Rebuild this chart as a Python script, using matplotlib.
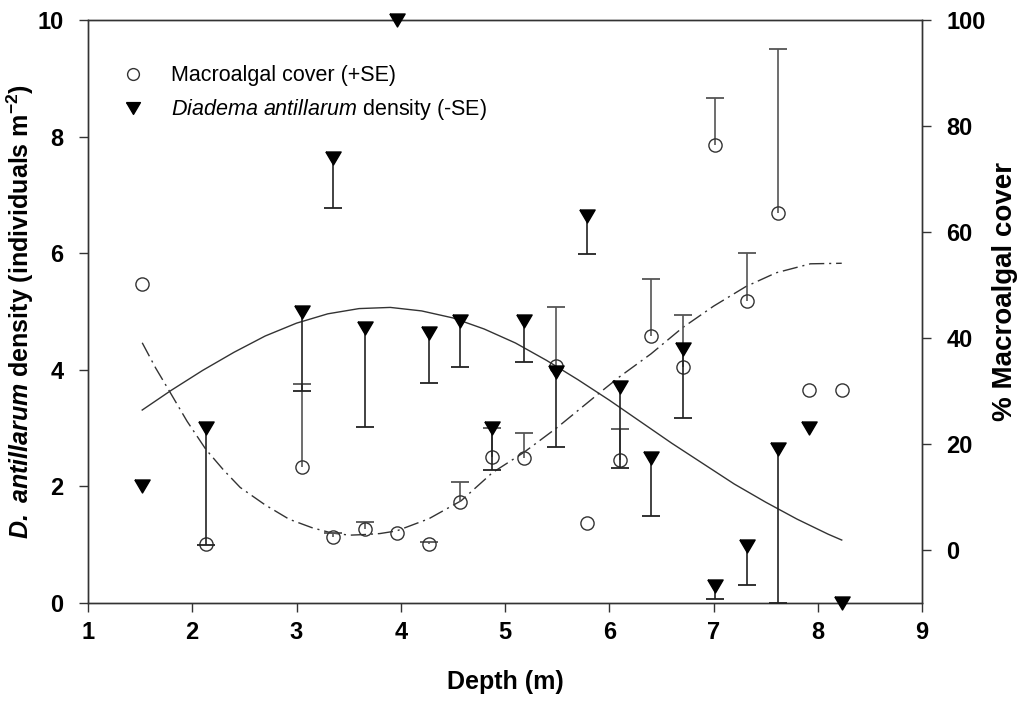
import matplotlib
matplotlib.use("Agg")
import matplotlib.pyplot as plt
import numpy as np
from matplotlib.lines import Line2D

plt.rcParams['font.family'] = ['Liberation Sans', 'DejaVu Sans']
plt.rcParams['mathtext.fontset'] = 'custom'
plt.rcParams['mathtext.rm'] = 'Liberation Sans'
plt.rcParams['mathtext.it'] = 'Liberation Sans:italic'
plt.rcParams['mathtext.bf'] = 'Liberation Sans:bold:italic'
plt.rcParams['mathtext.sf'] = 'Liberation Sans:bold'

# ---- data ----
depth = [1.52, 2.13, 3.05, 3.35, 3.66, 3.96, 4.27, 4.57, 4.88, 5.18,
         5.49, 5.79, 6.10, 6.40, 6.71, 7.01, 7.32, 7.62, 7.92, 8.23]

# Diadema antillarum density (individuals m-2), left axis, with -SE
diadema = [2.0, 3.0, 5.0, 7.63, 4.72, 10.0, 4.63, 4.84, 3.0, 4.84,
           3.97, 6.63, 3.71, 2.49, 4.36, 0.29, 0.97, 2.65, 3.0, 0.0]
diadema_se = [0, 2.0, 1.36, 0.85, 1.70, 0, 0.86, 0.80, 0.72, 0.70,
              1.30, 0.64, 1.40, 1.00, 1.18, 0.22, 0.66, 2.65, 0, 0]

# Macroalgal cover (%), right axis, with +SE
macro = [50.1, 1.1, 15.6, 2.4, 4.0, 3.2, 1.1, 9.0, 17.5, 17.3,
         34.7, 5.1, 17.0, 40.4, 34.5, 76.4, 46.9, 63.5, 30.1, 30.1]
macro_se = [0, 0, 15.8, 0.8, 1.2, 0, 0.4, 3.75, 5.5, 4.7,
            11.2, 0, 5.8, 10.7, 9.9, 8.9, 9.2, 31.0, 0, 0]

# fitted curves
fit_d_x = [1.52, 1.8, 2.1, 2.4, 2.7, 3.0, 3.3, 3.6, 3.9, 4.2, 4.5, 4.8,
           5.1, 5.4, 5.7, 6.0, 6.3, 6.6, 6.9, 7.2, 7.5, 7.8, 8.1, 8.23]
fit_d_y = [3.31, 3.65, 3.99, 4.30, 4.58, 4.80, 4.96, 5.05, 5.07, 5.01, 4.89, 4.70,
           4.46, 4.16, 3.83, 3.48, 3.11, 2.74, 2.39, 2.04, 1.73, 1.44, 1.18, 1.08]

fit_m_x = [1.52, 1.65, 1.78, 1.95, 2.13, 2.3, 2.46, 2.7, 2.93, 3.15, 3.34, 3.51,
           3.64, 3.8, 3.96, 4.27, 4.58, 4.88, 5.18, 5.5, 5.91, 6.1, 6.4, 6.7,
           7.0, 7.31, 7.6, 7.93, 8.23]
fit_m_y = [39.1, 34.3, 30.0, 24.3, 19.0, 15.1, 11.8, 8.5, 5.8, 4.2, 3.2, 2.8,
           2.9, 3.1, 3.6, 5.9, 9.3, 14.6, 18.4, 23.1, 29.7, 32.7, 37.0, 41.9,
           46.0, 49.7, 52.3, 54.0, 54.1]

x_ticks = [1, 2, 3, 4, 5, 6, 7, 8, 9]
left_ticks = [0, 2, 4, 6, 8, 10]
right_ticks = [0, 20, 40, 60, 80, 100]

# ---- figure ----
W, H = 1024, 706
fig = plt.figure(figsize=(W / 100, H / 100), dpi=100)
L, R, T, B = 88, 922, 20, 603
ax = fig.add_axes([L / W, 1 - B / H, (R - L) / W, (B - T) / H])
ax2 = ax.twinx()
ax.set_zorder(ax2.get_zorder() + 1)
ax.patch.set_visible(False)

ax.set_xlim(1, 9)
ax.set_ylim(0, 10)
ax2.set_ylim(-10, 100)

dark = '#222222'
grey = '#555555'
ls_dd = (0, (11, 3.5, 1.5, 3.5))

# fitted curves
ax.plot(fit_d_x, fit_d_y, color='#333333', lw=1.0, zorder=2)
ax2.plot(fit_m_x, fit_m_y, color='#333333', lw=1.0, linestyle=ls_dd, zorder=2)

# error bars: macroalgal +SE
d_arr = np.array(depth)
m_arr = np.array(macro)
mse = np.array(macro_se)
sel = mse > 0
ax2.vlines(d_arr[sel], m_arr[sel], m_arr[sel] + mse[sel], color=grey, lw=1.2, zorder=3)
ax2.plot(d_arr[sel], m_arr[sel] + mse[sel], linestyle='none', marker='_',
         markersize=13, mew=1.3, color=grey, zorder=3, clip_on=False)
ax2.plot(depth, macro, linestyle='none', marker='o', markersize=9.5,
         mfc='none', mec='#333333', mew=1.0, zorder=4, clip_on=False)

# error bars: Diadema -SE
v_arr = np.array(diadema)
vse = np.array(diadema_se)
sel = vse > 0
ax.vlines(d_arr[sel], v_arr[sel] - vse[sel], v_arr[sel], color=dark, lw=1.2, zorder=3)
ax.plot(d_arr[sel], v_arr[sel] - vse[sel], linestyle='none', marker='_',
        markersize=13, mew=1.3, color=dark, zorder=3, clip_on=False)
tri = [(-1, 0.85), (1, 0.85), (0, -0.85), (-1, 0.85)]
ax.plot(depth, diadema, linestyle='none', marker=tri, markersize=11,
        color='black', mec='black', zorder=5, clip_on=False)

# spines and ticks
for a in (ax, ax2):
    for s in a.spines.values():
        s.set_color('#333333')
        s.set_linewidth(1.0)
tick_kw = dict(direction='out', length=6.5, width=1.0, color='#333333',
               labelsize=17)
ax.tick_params(axis='x', pad=6.5, **tick_kw)
ax.tick_params(axis='y', pad=11, **tick_kw)
ax2.tick_params(axis='y', pad=11, **tick_kw)
ax.set_xticks(x_ticks)
ax.set_yticks(left_ticks)
ax2.set_yticks(right_ticks)
for lab in ax.get_xticklabels() + ax.get_yticklabels() + ax2.get_yticklabels():
    lab.set_fontweight('bold')

ax.set_xlabel('Depth (m)', fontsize=18, fontweight='bold', labelpad=19)
ax.set_ylabel(r'$\mathbf{D.\ antillarum}$ density (individuals m$^{\mathsf{-2}}$)',
              fontsize=18, fontweight='bold')
ax.yaxis.set_label_coords(-0.062, 0.5)
ax2.set_ylabel('% Macroalgal cover', fontsize=20, fontweight='bold', rotation=90)
ax2.yaxis.set_label_coords(1.084, 0.535)

# legend
handles = [
    Line2D([], [], linestyle='none', marker='o', markersize=8.5, mfc='none',
           mec='#333333', mew=1.0),
    Line2D([], [], linestyle='none', marker=tri, markersize=10, color='black'),
]
labels = ['Macroalgal cover (+SE)', r'$\mathit{Diadema\ antillarum}$ density (-SE)']
ax.legend(handles, labels, loc='upper left', bbox_to_anchor=(0.0303, 0.937),
          frameon=False, fontsize=15.5, handletextpad=1.3, labelspacing=0.5,
          borderaxespad=0.0, handlelength=1.0)

fig.savefig('out.png', dpi=100)
